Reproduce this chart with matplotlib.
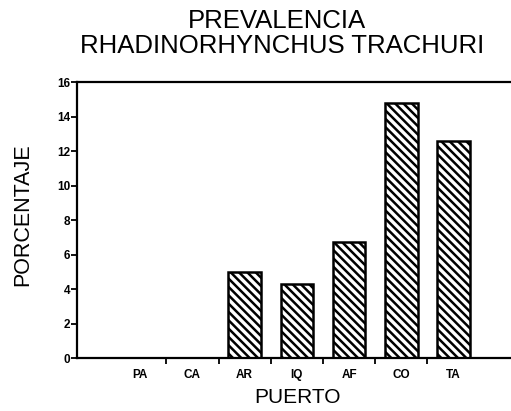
import matplotlib
matplotlib.use('Agg')
import matplotlib.pyplot as plt
import numpy as np

# prevalencia por puerto (%)
puertos = ['PA', 'CA', 'AR', 'IQ', 'AF', 'CO', 'TA']
prevalencia = [0.0, 0.0, 5.0, 4.3, 6.7, 14.8, 12.6]
y_ticks = [0, 2, 4, 6, 8, 10, 12, 14, 16]

plt.rcParams['font.family'] = ['Liberation Sans', 'DejaVu Sans']
plt.rcParams['hatch.linewidth'] = 1.8
plt.rcParams['hatch.color'] = 'black'

W, H = 511, 411
fig = plt.figure(figsize=(W / 100, H / 100), dpi=100)
ax = fig.add_axes([77 / W, 1 - 358 / H, 1 - 77 / W, (358 - 82) / H])

x = np.arange(len(puertos))
ax.bar(x, prevalencia, width=0.62, color='white', edgecolor='black',
       linewidth=1.8, hatch='\\\\\\\\', zorder=2)

ax.set_xlim(-1.21, 7.1)
ax.set_ylim(0, 16)

# ticks between categories, labels centred on bars
ax.set_xticks(x[:-1] + 0.5)
ax.set_xticklabels([])
ax.set_xticks(x, minor=True)
ax.set_xticklabels(puertos, minor=True, fontsize=8.5, fontweight='bold')
ax.tick_params(axis='x', which='minor', length=0, pad=8)
ax.tick_params(axis='x', which='major', length=4, width=1.3, direction='out')

ax.set_yticks(y_ticks)
ax.set_yticklabels([str(v) for v in y_ticks], fontsize=8.5, fontweight='bold')
ax.tick_params(axis='y', length=4, width=1.3, direction='out', pad=1)

ax.spines['right'].set_visible(False)
for s in ['left', 'bottom', 'top']:
    ax.spines[s].set_linewidth(1.6)

fig.text(22.5 / W, 1 - 215 / H, 'PORCENTAJE', rotation=90,
         ha='center', va='center', fontsize=15.5)
fig.text(297 / W, 1 - 397 / H, 'PUERTO', ha='center', va='center',
         fontsize=15)

fig.text(276.5 / W, 1 - 21.5 / H, 'PREVALENCIA', ha='center', va='center',
         fontsize=18.5)
fig.text(282.5 / W, 1 - 46 / H, 'RHADINORHYNCHUS TRACHURI', ha='center',
         va='center', fontsize=18.5)

fig.savefig('out.png', dpi=100)
